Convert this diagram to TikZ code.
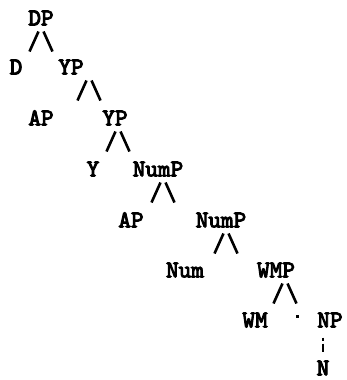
\documentclass[tikz,border=0pt]{standalone}
\usepackage{fontspec}
\newfontfamily\typefont{lmmono10-regular.otf}[FakeBold=4]
\usetikzlibrary{positioning}

\begin{document}
\begin{tikzpicture}[
  x=1pt, y=-1pt,
  cat/.style={font=\typefont\fontsize{24}{24}\selectfont,
    inner sep=0pt, text height=14.6pt, text depth=0pt},
  branch/.style={line width=2.6pt},
  link/.style={line width=2.6pt, dash pattern=on 3pt off 3pt on 8pt off 60pt,
    shorten <=10pt, shorten >=5pt},
  speck/.style={fill, inner sep=0pt, minimum size=3pt}
]
\useasboundingbox (0,0) rectangle (347,380);

% Categories, row by row
\node[cat] (DP) at (41,18) {DP};

\node[cat] (D) at (16,67) {D};
\node[cat] (YP1) at (71,67) {YP};

\node[cat] (AP1) at (41,118) {AP};
\node[cat] (YP2) at (115,118) {YP};

\node[cat] (Y) at (93,169) {Y};
\node[cat] (NumP1) at (158,169) {NumP};

\node[cat] (AP2) at (131,220) {AP};
\node[cat] (NumP2) at (221,220) {NumP};

\node[cat] (Num) at (185,270) {Num};
\node[cat] (WMP) at (276,270) {WMP};

\node[cat] (WM) at (255,320) {WM};
\node[speck] (stray) at (297,316) {};
\node[cat] (NP) at (330,320) {NP};

\node[cat] (N) at (323,368) {N};

% Branches under each phrase
\foreach \p/\dx in {DP/0, YP1/18, YP2/3, NumP1/5, NumP2/5, WMP/9} {
  \draw[branch] ([xshift={\dx-2.5}, yshift=-6pt]\p.south) -- ++(-9,20);
  \draw[branch] ([xshift={\dx+2.5}, yshift=-6pt]\p.south) -- ++(9,20);
}

% NP to N
\draw[link] (N |- NP.south) -- (N.north);

\end{tikzpicture}
\end{document}
